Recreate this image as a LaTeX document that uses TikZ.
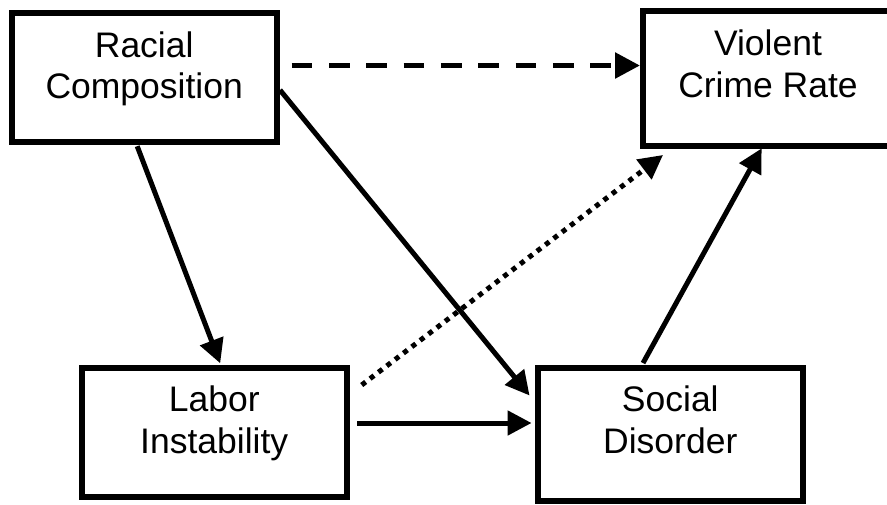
\documentclass[tikz,border=0pt]{standalone}
\usepackage{fontspec}
\setmainfont{Liberation Sans}
\usetikzlibrary{arrows.meta,calc}
\tikzset{
  box/.style={draw=black, line width=6pt, fill=white, rectangle, inner sep=0pt},
  txt/.style={align=center, font=\fontsize{35.5}{41.7}\selectfont, inner sep=0pt, anchor=base},
  solidarrow/.style={line width=5pt, -{Triangle[length=24pt,width=24pt]}},
  dasharrow/.style={line width=5.5pt, line cap=butt, dash pattern=on 20.7pt off 16.6pt, -{Triangle[length=25pt,width=25pt]}},
  dotarrow/.style={line width=5pt, line cap=butt, dash pattern=on 5pt off 5.5pt, -{Triangle[length=24pt,width=24pt]}}
}
\begin{document}
\begin{tikzpicture}[x=1pt,y=-1pt]
\useasboundingbox (0,0) rectangle (887,504);
\clip (0,0) rectangle (887,504);
\fill[white] (0,0) rectangle (887,504);
% boxes
\node[box, minimum width=265pt, minimum height=129pt] (rc) at (144.2,77.7) {};
\node[box, minimum width=250pt, minimum height=135pt] (vc) at (768,78.5) {};
\node[box, minimum width=265pt, minimum height=129pt] (lb) at (214.2,432.5) {};
\node[box, minimum width=265.5pt, minimum height=132.5pt] (sd) at (670.3,434.3) {};
% texts
\node[txt] (rct) at ([yshift=-88.5pt]rc.north) {Racial\\Composition};
\node[txt] (vct) at ([yshift=-89pt]vc.north) {Violent\\Crime Rate};
\node[txt] (lbt) at ([yshift=-88.5pt]lb.north) {Labor\\Instability};
\node[txt] (sdt) at ([yshift=-88.5pt]sd.north) {Social\\Disorder};
% connectors
\draw[dasharrow] ([xshift=12pt,yshift=12.2pt]rc.east) -- ([yshift=13pt]vc.west);
\draw[solidarrow] ([xshift=-7pt,yshift=-1pt]rc.south) -- ([xshift=6pt,yshift=1.7pt]lb.north);
\draw[solidarrow] ([xshift=0.3pt,yshift=-12.3pt]rc.east) -- ([xshift=-5pt,yshift=38.8pt]sd.west);
\draw[solidarrow] ([xshift=7.3pt,yshift=9.5pt]lb.east) -- ([xshift=-3pt,yshift=11.3pt]sd.west);
\draw[dotarrow] ([xshift=12pt,yshift=47.5pt]lb.east) -- ([xshift=-105pt,yshift=-6pt]vc.south);
\draw[solidarrow] ([xshift=-27.3pt,yshift=2pt]sd.north) -- ([xshift=-6.3pt,yshift=0.7pt]vc.south);
\end{tikzpicture}
\end{document}
